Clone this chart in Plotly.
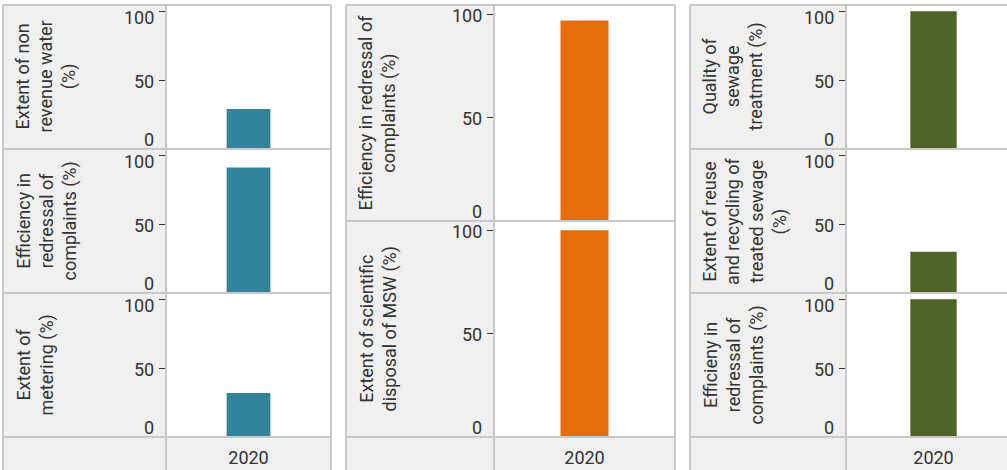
import plotly.graph_objects as go

W, H = 1007, 470

# ---------------- data ----------------
years = ["2020"]

water_labels = ["Extent of non<br>revenue water<br>(%)",
                "Efficiency in<br>redressal of<br>complaints (%)",
                "Extent of<br>metering (%)"]
water_values = [29, 91, 32]

msw_labels = ["Efficiency in redressal of<br>complaints (%)",
              "Extent of scientific<br>disposal of MSW (%)"]
msw_values = [97, 100]

sewage_labels = ["Quality of<br>sewage<br>treatment (%)",
                 "Extent of reuse<br>and recycling of<br>treated sewage<br>(%)",
                 "Efficieny in<br>redressal of<br>complaints (%)"]
sewage_values = [100, 30, 100]

y_tick_values = [0, 50, 100]
y_tick_text = ["0", "50", "100"]
y_max = 104.5

# ---------------- style ----------------
TEAL, ORANGE, OLIVE = "#31849B", "#E46C0A", "#4F6228"
BG, BORDER, TEXT = "#f0f0f0", "#c8c8c8", "#333333"
FONT = "Roboto"
FS = 18
FOOT_BOTTOM = 472

columns = [
    dict(labels=water_labels, values=water_values, color=TEAL,
         x0=3, xd=166, x1=331, rows=[5, 149, 293, 437], flush=True),
    dict(labels=msw_labels, values=msw_values, color=ORANGE,
         x0=346, xd=494, x1=675, rows=[5, 221, 437], flush=False),
    dict(labels=sewage_labels, values=sewage_values, color=OLIVE,
         x0=690, xd=846, x1=1021, rows=[5, 149, 293, 437], flush=True),
]


def px(x):
    return x / W


def py(y):
    return 1 - y / H


fig = go.Figure()
shapes, annotations, axes = [], [], {}


def line(xa, ya, xb, yb):
    shapes.append(dict(type="line", xref="paper", yref="paper",
                       x0=px(xa), y0=py(ya), x1=px(xb), y1=py(yb),
                       line=dict(color=BORDER, width=2), layer="above"))


n = 0
for col in columns:
    rows = col["rows"]
    x0, xd, x1 = col["x0"], col["xd"], col["x1"]
    xr = min(x1, W)
    # gray label strip and footer
    shapes.append(dict(type="rect", xref="paper", yref="paper",
                       x0=px(x0), x1=px(xd), y0=py(FOOT_BOTTOM), y1=py(rows[0]),
                       fillcolor=BG, line=dict(width=0), layer="below"))
    shapes.append(dict(type="rect", xref="paper", yref="paper",
                       x0=px(xd), x1=px(xr), y0=py(FOOT_BOTTOM), y1=py(rows[-1]),
                       fillcolor=BG, line=dict(width=0), layer="below"))
    for i, (lab, val) in enumerate(zip(col["labels"], col["values"])):
        n += 1
        sfx = "" if n == 1 else str(n)
        top, bot = rows[i], rows[i + 1]
        is_bottom = i == len(col["labels"]) - 1
        fig.add_trace(go.Bar(x=years, y=[val], marker_color=col["color"],
                             marker_line_width=0, width=0.265,
                             xaxis="x" + sfx, yaxis="y" + sfx, showlegend=False))
        axes["xaxis" + sfx] = dict(
            domain=[px(xd), px(xr)], anchor="y" + sfx, type="category",
            range=[-0.5, -0.5 + (xr - xd) / (x1 - xd)],
            showticklabels=is_bottom, ticks="", showgrid=False,
            zeroline=False, showline=False,
            tickfont=dict(family=FONT, size=FS, color=TEXT),
            ticklabelstandoff=8)
        axes["yaxis" + sfx] = dict(
            domain=[py(bot), py(top)], anchor="x" + sfx,
            range=[0, y_max], tickvals=y_tick_values, showticklabels=False,
            ticks="outside", ticklen=6, tickwidth=1, tickcolor=TEXT,
            showgrid=False, zeroline=False, showline=False)
        # facet label
        annotations.append(dict(
            text=lab, textangle=-90, xref="paper", yref="paper",
            x=px(x0 + 7), y=py((top + bot) / 2),
            xanchor="left", yanchor="middle",
            showarrow=False, align="center",
            font=dict(family=FONT, size=FS, color=TEXT)))
        # tick labels
        for tv, tt in zip(y_tick_values, y_tick_text):
            if tv == 0:
                ya, ys = "bottom", -3
            elif tv == max(y_tick_values) and col["flush"]:
                ya, ys = "top", 6
            else:
                ya, ys = "middle", -1
            annotations.append(dict(
                text=tt, xref="paper", yref="y" + sfx, x=px(xd - 10), y=tv,
                xanchor="right", yanchor=ya, yshift=ys, showarrow=False,
                font=dict(family=FONT, size=FS, color=TEXT)))
    # borders
    for r in rows:
        line(x0, r, xr, r)
    line(x0, FOOT_BOTTOM, xr, FOOT_BOTTOM)
    line(x0, rows[0], x0, FOOT_BOTTOM)
    line(xd, rows[0], xd, FOOT_BOTTOM)
    if x1 <= W:
        line(x1, rows[0], x1, FOOT_BOTTOM)

fig.update_layout(
    width=W, height=H, autosize=False,
    margin=dict(l=0, r=0, t=0, b=0, pad=0),
    paper_bgcolor="white", plot_bgcolor="white",
    showlegend=False, shapes=shapes, annotations=annotations,
    font=dict(family=FONT, size=FS, color=TEXT),
    **axes)

fig.write_html(
    "out.html",
    config={"displayModeBar": False, "staticPlot": True},
    post_script="document.body.style.margin='0px';"
                "document.documentElement.style.overflow='hidden';")
